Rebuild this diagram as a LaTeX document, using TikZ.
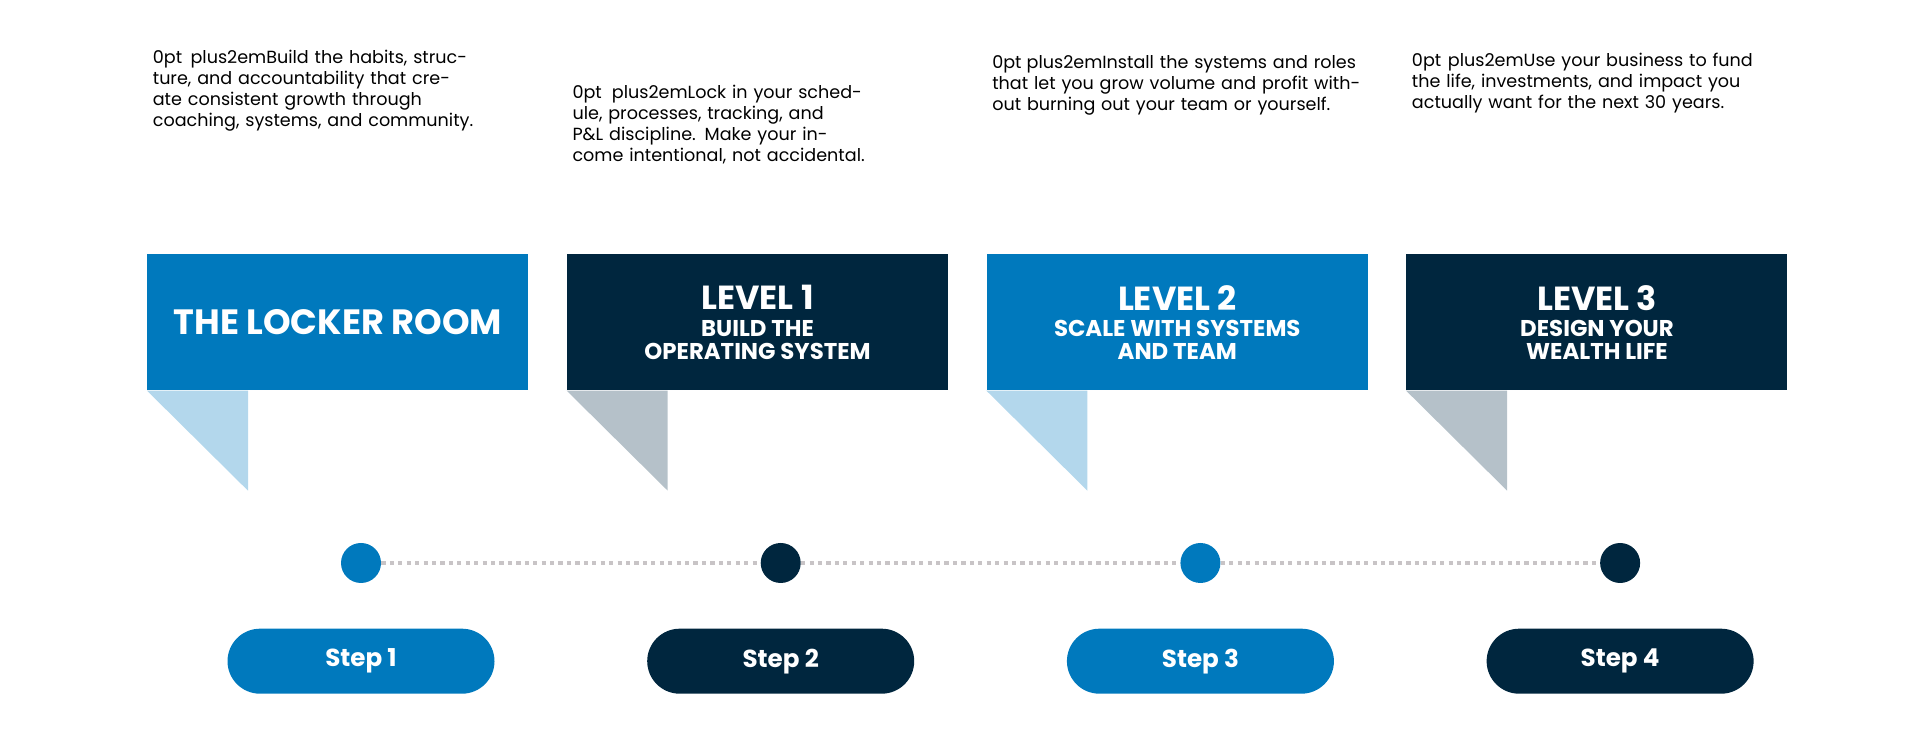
\documentclass[tikz,border=0pt]{standalone}
\usepackage{fontspec}
\setmainfont{Poppins}
\usetikzlibrary{positioning}
\definecolor{lrblue}{RGB}{0,121,189}
\definecolor{lrnavy}{RGB}{0,38,62}
\definecolor{flagblue}{RGB}{179,215,236}
\definecolor{flaggrey}{RGB}{181,193,201}
\definecolor{dotgrey}{RGB}{200,196,198}
\tikzset{
	levelbox/.style={minimum width=7.62cm, minimum height=2.72cm, inner sep=0pt, text=white, align=center, font=\bfseries},
	stepdot/.style={circle, minimum size=0.8cm, inner sep=0pt},
	steppill/.style={rounded corners=0.65cm, minimum width=5.34cm, minimum height=1.3cm, text=white, font=\bfseries\fontsize{14}{16}\selectfont},
	blurb/.style={text width=7.4cm, align=center, anchor=north, font=\hyphenpenalty=10000\fontsize{13.5}{17}\selectfont},
}
\begin{document}
\begin{tikzpicture}
\useasboundingbox (0,0) rectangle (38.4,14.82);

% Level boxes
\node [levelbox, fill=lrblue, anchor=north west] (box1) at (2.94,9.74)
	{\fontsize{20}{24}\selectfont THE LOCKER ROOM};
\node [levelbox, fill=lrnavy, right=0.76cm of box1] (box2)
	{\fontsize{19}{22}\selectfont LEVEL 1\\[3pt]\fontsize{13}{15}\selectfont BUILD THE\\[1pt]\fontsize{13}{15}\selectfont OPERATING SYSTEM};
\node [levelbox, fill=lrblue, right=0.76cm of box2] (box3)
	{\fontsize{19}{22}\selectfont LEVEL 2\\[3pt]\fontsize{13}{15}\selectfont SCALE WITH SYSTEMS\\[1pt]\fontsize{13}{15}\selectfont AND TEAM};
\node [levelbox, fill=lrnavy, right=0.76cm of box3] (box4)
	{\fontsize{19}{22}\selectfont LEVEL 3\\[3pt]\fontsize{13}{15}\selectfont DESIGN YOUR\\[1pt]\fontsize{13}{15}\selectfont WEALTH LIFE};

% Flags under the boxes
\fill[flagblue] (box1.south west) -- ++(2.02,0) -- ++(0,-2) -- cycle;
\fill[flaggrey] (box2.south west) -- ++(2.02,0) -- ++(0,-2) -- cycle;
\fill[flagblue] (box3.south west) -- ++(2.02,0) -- ++(0,-2) -- cycle;
\fill[flaggrey] (box4.south west) -- ++(2.02,0) -- ++(0,-2) -- cycle;

% Descriptions
\node [blurb] (text1) at ([yshift=4.2cm]box1.north) {Build the habits, structure, and accountability that create consistent growth through coaching, systems, and community.};
\node [blurb] (text2) at ([yshift=3.5cm]box2.north) {Lock in your schedule, processes, tracking, and P\&L discipline. Make your income intentional, not accidental.};
\node [blurb] (text3) at ([yshift=4.1cm]box3.north) {Install the systems and roles that let you grow volume and profit without burning out your team or yourself.};
\node [blurb] (text4) at ([yshift=4.15cm]box4.north) {Use your business to fund the life, investments, and impact you actually want for the next 30 years.};

% Timeline dots
\node [stepdot, fill=lrblue] (dot1) at (7.22,3.56) {};
\node [stepdot, fill=lrnavy, right=7.58cm of dot1] (dot2) {};
\node [stepdot, fill=lrblue, right=7.58cm of dot2] (dot3) {};
\node [stepdot, fill=lrnavy, right=7.58cm of dot3] (dot4) {};
\draw[dotgrey, line width=2.4pt, dash pattern=on 2.4pt off 2.4pt] (dot1) -- (dot2) -- (dot3) -- (dot4);

% Step pills
\node [steppill, fill=lrblue, below=0.9cm of dot1] (step1) {Step 1};
\node [steppill, fill=lrnavy, below=0.9cm of dot2] (step2) {Step 2};
\node [steppill, fill=lrblue, below=0.9cm of dot3] (step3) {Step 3};
\node [steppill, fill=lrnavy, below=0.9cm of dot4] (step4) {Step 4};

\end{tikzpicture}
\end{document}
